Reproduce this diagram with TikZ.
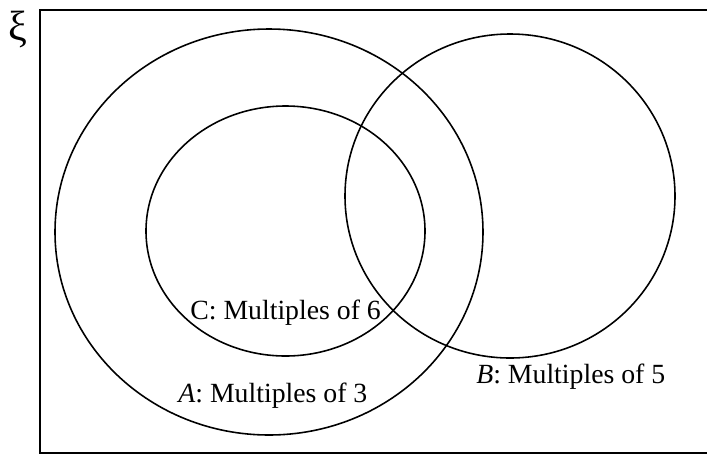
\documentclass[tikz,border=0pt]{standalone}
\usepackage{fontspec}
\setmainfont{Liberation Serif}
\begin{document}
\begin{tikzpicture}[x = 0.02cm, y = -0.02cm,
    set/.style = {line width = 0.9pt},
    lab/.style = {anchor = base west, inner sep = 0pt, font = \fontsize{15.8}{18}\selectfont}]
    \useasboundingbox (0,0) rectangle (707,454);
    \draw[line width = 1pt] (707,10) -- (40,10) -- (40,454);
    \draw[line width = 1pt] (40,453) -- (707,453);
    \node[font = \fontsize{24}{26}\selectfont] (xi) at (18,29) {ξ};
    \coordinate (cA) at (269,232);
    \coordinate (cC) at (285.5,231);
    \coordinate (cB) at (510,196);
    \draw[set] (cA) ellipse [x radius = 214, y radius = 203];
    \draw[set] (cC) ellipse [x radius = 139.5, y radius = 125];
    \draw[set] (cB) ellipse [x radius = 165, y radius = 162];
    \node[lab] (labC) at (190,319) {C: Multiples of 6};
    \node[lab] (labA) at (178,402) {\textit{A}: Multiples of 3};
    \node[lab] (labB) at (476,383) {\textit{B}: Multiples of 5};
\end{tikzpicture}
\end{document}
